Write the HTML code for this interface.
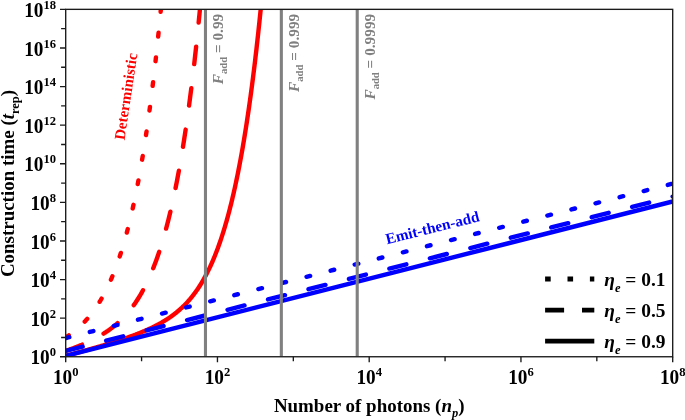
<!DOCTYPE html><html><head><meta charset="utf-8"><style>html,body{margin:0;padding:0;background:#fff}</style></head><body><svg width="685" height="420" viewBox="0 0 685 420" style="display:block;font-family:'Liberation Serif',serif;font-weight:bold">
<rect width="685" height="420" fill="#fff"/>
<defs><clipPath id="c"><rect x="65.7" y="9.35" width="607.0" height="347.4"/></clipPath></defs>
<g clip-path="url(#c)" fill="none" stroke-width="4.4" stroke-linecap="round">
<path d="M65.70,337.45 L66.19,337.13 L66.67,336.81 L67.16,336.48 L67.65,336.15 L68.13,335.82 L68.62,335.49 L69.11,335.14 L69.59,334.80 L70.08,334.45 L70.57,334.10 L71.05,333.74 L71.54,333.38 L72.03,333.01 L72.51,332.64 L73.00,332.27 L73.49,331.89 L73.97,331.51 L74.46,331.12 L74.94,330.72 L75.43,330.33 L75.92,329.92 L76.40,329.51 L76.89,329.10 L77.38,328.68 L77.86,328.25 L78.35,327.82 L78.84,327.39 L79.32,326.95 L79.81,326.50 L80.30,326.05 L80.78,325.59 L81.27,325.12 L81.76,324.65 L82.24,324.17 L82.73,323.69 L83.22,323.19 L83.70,322.70 L84.19,322.19 L84.68,321.68 L85.16,321.16 L85.65,320.63 L86.14,320.10 L86.62,319.56 L87.11,319.01 L87.60,318.45 L88.08,317.89 L88.57,317.32 L89.06,316.74 L89.54,316.15 L90.03,315.55 L90.52,314.95 L91.00,314.33 L91.49,313.71 L91.97,313.08 L92.46,312.44 L92.95,311.79 L93.43,311.13 L93.92,310.46 L94.41,309.78 L94.89,309.09 L95.38,308.39 L95.87,307.68 L96.35,306.96 L96.84,306.23 L97.33,305.49 L97.81,304.74 L98.30,303.98 L98.79,303.20 L99.27,302.42 L99.76,301.62 L100.25,300.81 L100.73,299.99 L101.22,299.16 L101.71,298.32 L102.19,297.46 L102.68,296.59 L103.17,295.71 L103.65,294.81 L104.14,293.90 L104.63,292.98 L105.11,292.05 L105.60,291.10 L106.09,290.13 L106.57,289.15 L107.06,288.16 L107.55,287.15 L108.03,286.13 L108.52,285.09 L109.01,284.04 L109.49,282.97 L109.98,281.89 L110.46,280.79 L110.95,279.67 L111.44,278.54 L111.92,277.38 L112.41,276.22 L112.90,275.03 L113.38,273.83 L113.87,272.61 L114.36,271.37 L114.84,270.11 L115.33,268.84 L115.82,267.54 L116.30,266.23 L116.79,264.90 L117.28,263.54 L117.76,262.17 L118.25,260.78 L118.74,259.36 L119.22,257.93 L119.71,256.47 L120.20,254.99 L120.68,253.49 L121.17,251.97 L121.66,250.42 L122.14,248.85 L122.63,247.26 L123.12,245.64 L123.60,244.00 L124.09,242.34 L124.58,240.65 L125.06,238.94 L125.55,237.20 L126.04,235.43 L126.52,233.64 L127.01,231.82 L127.49,229.98 L127.98,228.11 L128.47,226.21 L128.95,224.28 L129.44,222.32 L129.93,220.33 L130.41,218.32 L130.90,216.27 L131.39,214.19 L131.87,212.09 L132.36,209.95 L132.85,207.78 L133.33,205.57 L133.82,203.34 L134.31,201.07 L134.79,198.77 L135.28,196.43 L135.77,194.06 L136.25,191.65 L136.74,189.21 L137.23,186.73 L137.71,184.21 L138.20,181.66 L138.69,179.07 L139.17,176.44 L139.66,173.77 L140.15,171.06 L140.63,168.31 L141.12,165.52 L141.61,162.69 L142.09,159.82 L142.58,156.90 L143.07,153.94 L143.55,150.94 L144.04,147.89 L144.52,144.79 L145.01,141.65 L145.50,138.47 L145.98,135.23 L146.47,131.95 L146.96,128.62 L147.44,125.24 L147.93,121.81 L148.42,118.33 L148.90,114.79 L149.39,111.21 L149.88,107.57 L150.36,103.87 L150.85,100.13 L151.34,96.32 L151.82,92.46 L152.31,88.54 L152.80,84.56 L153.28,80.53 L153.77,76.43 L154.26,72.28 L154.74,68.06 L155.23,63.78 L155.72,59.43 L156.20,55.02 L156.69,50.55 L157.18,46.00 L157.66,41.40 L158.15,36.72 L158.64,31.97 L159.12,27.15 L159.61,22.26 L160.10,17.30 L160.58,12.26 L161.07,7.15 L161.55,1.96 L162.04,-3.30 L162.53,-8.64 L163.01,-14.07 L163.50,-19.57 L163.99,-25.15" stroke="#f00" stroke-dasharray="3.7 21.15"/>
<path d="M65.70,350.94 L66.19,350.77 L66.67,350.60 L67.16,350.42 L67.65,350.25 L68.13,350.07 L68.62,349.90 L69.11,349.72 L69.59,349.54 L70.08,349.36 L70.57,349.18 L71.05,349.00 L71.54,348.82 L72.03,348.64 L72.51,348.46 L73.00,348.27 L73.49,348.09 L73.97,347.90 L74.46,347.71 L74.94,347.52 L75.43,347.33 L75.92,347.14 L76.40,346.95 L76.89,346.76 L77.38,346.56 L77.86,346.37 L78.35,346.17 L78.84,345.97 L79.32,345.77 L79.81,345.57 L80.30,345.37 L80.78,345.17 L81.27,344.96 L81.76,344.76 L82.24,344.55 L82.73,344.34 L83.22,344.13 L83.70,343.92 L84.19,343.71 L84.68,343.49 L85.16,343.28 L85.65,343.06 L86.14,342.84 L86.62,342.62 L87.11,342.40 L87.60,342.17 L88.08,341.95 L88.57,341.72 L89.06,341.49 L89.54,341.26 L90.03,341.02 L90.52,340.79 L91.00,340.55 L91.49,340.31 L91.97,340.07 L92.46,339.83 L92.95,339.58 L93.43,339.33 L93.92,339.08 L94.41,338.83 L94.89,338.58 L95.38,338.32 L95.87,338.06 L96.35,337.80 L96.84,337.53 L97.33,337.27 L97.81,337.00 L98.30,336.73 L98.79,336.45 L99.27,336.18 L99.76,335.90 L100.25,335.61 L100.73,335.33 L101.22,335.04 L101.71,334.75 L102.19,334.45 L102.68,334.16 L103.17,333.85 L103.65,333.55 L104.14,333.24 L104.63,332.93 L105.11,332.62 L105.60,332.30 L106.09,331.98 L106.57,331.66 L107.06,331.33 L107.55,331.00 L108.03,330.66 L108.52,330.32 L109.01,329.98 L109.49,329.63 L109.98,329.28 L110.46,328.92 L110.95,328.56 L111.44,328.20 L111.92,327.83 L112.41,327.46 L112.90,327.08 L113.38,326.70 L113.87,326.31 L114.36,325.92 L114.84,325.52 L115.33,325.12 L115.82,324.71 L116.30,324.30 L116.79,323.88 L117.28,323.46 L117.76,323.03 L118.25,322.59 L118.74,322.15 L119.22,321.71 L119.71,321.26 L120.20,320.80 L120.68,320.34 L121.17,319.87 L121.66,319.39 L122.14,318.91 L122.63,318.42 L123.12,317.92 L123.60,317.42 L124.09,316.91 L124.58,316.39 L125.06,315.87 L125.55,315.34 L126.04,314.80 L126.52,314.25 L127.01,313.70 L127.49,313.14 L127.98,312.57 L128.47,311.99 L128.95,311.40 L129.44,310.81 L129.93,310.20 L130.41,309.59 L130.90,308.97 L131.39,308.34 L131.87,307.71 L132.36,307.06 L132.85,306.40 L133.33,305.74 L133.82,305.06 L134.31,304.37 L134.79,303.68 L135.28,302.97 L135.77,302.26 L136.25,301.53 L136.74,300.79 L137.23,300.04 L137.71,299.28 L138.20,298.51 L138.69,297.73 L139.17,296.94 L139.66,296.14 L140.15,295.32 L140.63,294.49 L141.12,293.65 L141.61,292.80 L142.09,291.93 L142.58,291.05 L143.07,290.16 L143.55,289.25 L144.04,288.34 L144.52,287.40 L145.01,286.46 L145.50,285.50 L145.98,284.53 L146.47,283.54 L146.96,282.53 L147.44,281.52 L147.93,280.48 L148.42,279.43 L148.90,278.37 L149.39,277.29 L149.88,276.20 L150.36,275.08 L150.85,273.96 L151.34,272.81 L151.82,271.65 L152.31,270.47 L152.80,269.27 L153.28,268.06 L153.77,266.82 L154.26,265.57 L154.74,264.30 L155.23,263.01 L155.72,261.70 L156.20,260.38 L156.69,259.03 L157.18,257.66 L157.66,256.27 L158.15,254.87 L158.64,253.44 L159.12,251.99 L159.61,250.52 L160.10,249.02 L160.58,247.51 L161.07,245.97 L161.55,244.40 L162.04,242.82 L162.53,241.21 L163.01,239.58 L163.50,237.92 L163.99,236.24 L164.47,234.54 L164.96,232.80 L165.45,231.05 L165.93,229.26 L166.42,227.45 L166.91,225.62 L167.39,223.75 L167.88,221.86 L168.37,219.94 L168.85,217.99 L169.34,216.01 L169.83,214.01 L170.31,211.97 L170.80,209.90 L171.29,207.80 L171.77,205.67 L172.26,203.51 L172.75,201.32 L173.23,199.09 L173.72,196.84 L174.21,194.54 L174.69,192.22 L175.18,189.86 L175.67,187.46 L176.15,185.03 L176.64,182.56 L177.13,180.06 L177.61,177.51 L178.10,174.93 L178.58,172.31 L179.07,169.66 L179.56,166.96 L180.04,164.22 L180.53,161.45 L181.02,158.63 L181.50,155.77 L181.99,152.86 L182.48,149.92 L182.96,146.93 L183.45,143.89 L183.94,140.81 L184.42,137.69 L184.91,134.51 L185.40,131.29 L185.88,128.03 L186.37,124.71 L186.86,121.35 L187.34,117.93 L187.83,114.46 L188.32,110.95 L188.80,107.38 L189.29,103.75 L189.78,100.08 L190.26,96.34 L190.75,92.56 L191.24,88.71 L191.72,84.81 L192.21,80.85 L192.70,76.84 L193.18,72.76 L193.67,68.62 L194.16,64.42 L194.64,60.16 L195.13,55.83 L195.62,51.44 L196.10,46.99 L196.59,42.47 L197.07,37.88 L197.56,33.22 L198.05,28.50 L198.53,23.70 L199.02,18.83 L199.51,13.89 L199.99,8.88 L200.48,3.79 L200.97,-1.38 L201.45,-6.62 L201.94,-11.94 L202.43,-17.33 L202.91,-22.81" stroke="#f00" stroke-dasharray="17.5 24.25"/>
<path d="M65.70,355.87 L66.19,355.74 L66.67,355.61 L67.16,355.48 L67.65,355.34 L68.13,355.21 L68.62,355.08 L69.11,354.95 L69.59,354.82 L70.08,354.69 L70.57,354.56 L71.05,354.43 L71.54,354.29 L72.03,354.16 L72.51,354.03 L73.00,353.90 L73.49,353.77 L73.97,353.63 L74.46,353.50 L74.94,353.37 L75.43,353.24 L75.92,353.10 L76.40,352.97 L76.89,352.84 L77.38,352.70 L77.86,352.57 L78.35,352.44 L78.84,352.30 L79.32,352.17 L79.81,352.04 L80.30,351.90 L80.78,351.77 L81.27,351.63 L81.76,351.50 L82.24,351.36 L82.73,351.23 L83.22,351.09 L83.70,350.96 L84.19,350.82 L84.68,350.69 L85.16,350.55 L85.65,350.42 L86.14,350.28 L86.62,350.14 L87.11,350.01 L87.60,349.87 L88.08,349.73 L88.57,349.60 L89.06,349.46 L89.54,349.32 L90.03,349.18 L90.52,349.05 L91.00,348.91 L91.49,348.77 L91.97,348.63 L92.46,348.49 L92.95,348.35 L93.43,348.21 L93.92,348.07 L94.41,347.93 L94.89,347.79 L95.38,347.65 L95.87,347.51 L96.35,347.37 L96.84,347.23 L97.33,347.09 L97.81,346.95 L98.30,346.80 L98.79,346.66 L99.27,346.52 L99.76,346.38 L100.25,346.23 L100.73,346.09 L101.22,345.95 L101.71,345.80 L102.19,345.66 L102.68,345.51 L103.17,345.37 L103.65,345.22 L104.14,345.08 L104.63,344.93 L105.11,344.78 L105.60,344.64 L106.09,344.49 L106.57,344.34 L107.06,344.20 L107.55,344.05 L108.03,343.90 L108.52,343.75 L109.01,343.60 L109.49,343.45 L109.98,343.30 L110.46,343.15 L110.95,343.00 L111.44,342.85 L111.92,342.69 L112.41,342.54 L112.90,342.39 L113.38,342.24 L113.87,342.08 L114.36,341.93 L114.84,341.77 L115.33,341.62 L115.82,341.46 L116.30,341.31 L116.79,341.15 L117.28,340.99 L117.76,340.83 L118.25,340.68 L118.74,340.52 L119.22,340.36 L119.71,340.20 L120.20,340.04 L120.68,339.88 L121.17,339.71 L121.66,339.55 L122.14,339.39 L122.63,339.22 L123.12,339.06 L123.60,338.89 L124.09,338.73 L124.58,338.56 L125.06,338.40 L125.55,338.23 L126.04,338.06 L126.52,337.89 L127.01,337.72 L127.49,337.55 L127.98,337.38 L128.47,337.21 L128.95,337.03 L129.44,336.86 L129.93,336.68 L130.41,336.51 L130.90,336.33 L131.39,336.15 L131.87,335.98 L132.36,335.80 L132.85,335.62 L133.33,335.44 L133.82,335.25 L134.31,335.07 L134.79,334.89 L135.28,334.70 L135.77,334.52 L136.25,334.33 L136.74,334.14 L137.23,333.95 L137.71,333.76 L138.20,333.57 L138.69,333.38 L139.17,333.19 L139.66,332.99 L140.15,332.80 L140.63,332.60 L141.12,332.40 L141.61,332.20 L142.09,332.00 L142.58,331.80 L143.07,331.59 L143.55,331.39 L144.04,331.18 L144.52,330.97 L145.01,330.76 L145.50,330.55 L145.98,330.34 L146.47,330.13 L146.96,329.91 L147.44,329.70 L147.93,329.48 L148.42,329.26 L148.90,329.04 L149.39,328.81 L149.88,328.59 L150.36,328.36 L150.85,328.13 L151.34,327.90 L151.82,327.67 L152.31,327.43 L152.80,327.20 L153.28,326.96 L153.77,326.72 L154.26,326.48 L154.74,326.23 L155.23,325.99 L155.72,325.74 L156.20,325.49 L156.69,325.23 L157.18,324.98 L157.66,324.72 L158.15,324.46 L158.64,324.20 L159.12,323.93 L159.61,323.66 L160.10,323.39 L160.58,323.12 L161.07,322.85 L161.55,322.57 L162.04,322.29 L162.53,322.00 L163.01,321.72 L163.50,321.43 L163.99,321.13 L164.47,320.84 L164.96,320.54 L165.45,320.24 L165.93,319.93 L166.42,319.62 L166.91,319.31 L167.39,319.00 L167.88,318.68 L168.37,318.36 L168.85,318.03 L169.34,317.70 L169.83,317.37 L170.31,317.03 L170.80,316.69 L171.29,316.34 L171.77,315.99 L172.26,315.64 L172.75,315.28 L173.23,314.92 L173.72,314.55 L174.21,314.18 L174.69,313.81 L175.18,313.43 L175.67,313.04 L176.15,312.66 L176.64,312.26 L177.13,311.86 L177.61,311.46 L178.10,311.05 L178.58,310.63 L179.07,310.21 L179.56,309.79 L180.04,309.36 L180.53,308.92 L181.02,308.48 L181.50,308.03 L181.99,307.58 L182.48,307.12 L182.96,306.65 L183.45,306.18 L183.94,305.70 L184.42,305.21 L184.91,304.72 L185.40,304.22 L185.88,303.72 L186.37,303.20 L186.86,302.68 L187.34,302.16 L187.83,301.62 L188.32,301.08 L188.80,300.53 L189.29,299.97 L189.78,299.41 L190.26,298.83 L190.75,298.25 L191.24,297.66 L191.72,297.07 L192.21,296.46 L192.70,295.84 L193.18,295.22 L193.67,294.59 L194.16,293.94 L194.64,293.29 L195.13,292.63 L195.62,291.96 L196.10,291.28 L196.59,290.59 L197.07,289.89 L197.56,289.18 L198.05,288.46 L198.53,287.73 L199.02,286.99 L199.51,286.24 L199.99,285.47 L200.48,284.70 L200.97,283.91 L201.45,283.11 L201.94,282.30 L202.43,281.48 L202.91,280.65 L203.40,279.80 L203.89,278.94 L204.37,278.07 L204.86,277.19 L205.35,276.29 L205.83,275.38 L206.32,274.46 L206.81,273.52 L207.29,272.57 L207.78,271.60 L208.27,270.62 L208.75,269.63 L209.24,268.62 L209.73,267.59 L210.21,266.55 L210.70,265.50 L211.19,264.43 L211.67,263.34 L212.16,262.24 L212.65,261.12 L213.13,259.99 L213.62,258.83 L214.10,257.66 L214.59,256.48 L215.08,255.27 L215.56,254.05 L216.05,252.81 L216.54,251.55 L217.02,250.27 L217.51,248.98 L218.00,247.66 L218.48,246.32 L218.97,244.97 L219.46,243.59 L219.94,242.20 L220.43,240.78 L220.92,239.34 L221.40,237.88 L221.89,236.40 L222.38,234.90 L222.86,233.37 L223.35,231.82 L223.84,230.25 L224.32,228.66 L224.81,227.04 L225.30,225.40 L225.78,223.73 L226.27,222.04 L226.76,220.32 L227.24,218.58 L227.73,216.81 L228.22,215.02 L228.70,213.19 L229.19,211.35 L229.68,209.47 L230.16,207.57 L230.65,205.63 L231.13,203.67 L231.62,201.68 L232.11,199.66 L232.59,197.61 L233.08,195.53 L233.57,193.42 L234.05,191.28 L234.54,189.11 L235.03,186.90 L235.51,184.66 L236.00,182.39 L236.49,180.08 L236.97,177.74 L237.46,175.36 L237.95,172.95 L238.43,170.51 L238.92,168.02 L239.41,165.50 L239.89,162.94 L240.38,160.35 L240.87,157.71 L241.35,155.04 L241.84,152.33 L242.33,149.57 L242.81,146.78 L243.30,143.94 L243.79,141.06 L244.27,138.14 L244.76,135.18 L245.25,132.17 L245.73,129.11 L246.22,126.01 L246.71,122.87 L247.19,119.68 L247.68,116.44 L248.16,113.15 L248.65,109.81 L249.14,106.43 L249.62,102.99 L250.11,99.50 L250.60,95.96 L251.08,92.37 L251.57,88.73 L252.06,85.03 L252.54,81.27 L253.03,77.46 L253.52,73.59 L254.00,69.67 L254.49,65.68 L254.98,61.64 L255.46,57.54 L255.95,53.37 L256.44,49.15 L256.92,44.86 L257.41,40.51 L257.90,36.09 L258.38,31.61 L258.87,27.06 L259.36,22.44 L259.84,17.75 L260.33,13.00 L260.82,8.17 L261.30,3.27 L261.79,-1.70 L262.28,-6.74 L262.76,-11.86 L263.25,-17.06 L263.74,-22.33" stroke="#f00"/>
<path d="M65.70,338.05 L672.70,183.65" stroke="#00f" stroke-dasharray="3.7 21.15"/>
<path d="M65.70,350.94 L672.70,196.54" stroke="#00f" stroke-dasharray="17.5 24.25"/>
<path d="M65.70,355.87 L672.70,201.47" stroke="#00f"/>
</g>
<line x1="205.47" x2="205.47" y1="9.95" y2="356.15" stroke="#808080" stroke-width="3.1"/>
<line x1="281.34" x2="281.34" y1="9.95" y2="356.15" stroke="#808080" stroke-width="3.1"/>
<line x1="357.22" x2="357.22" y1="9.95" y2="356.15" stroke="#808080" stroke-width="3.1"/>
<rect x="65.7" y="9.35" width="607.0" height="347.4" fill="none" stroke="#1a1a1a" stroke-width="1.35"/>
<path d="M65.7,356.75h-5.7 M65.7,337.45h-4.6 M65.7,318.15h-5.7 M65.7,298.85h-4.6 M65.7,279.55h-5.7 M65.7,260.25h-4.6 M65.7,240.95h-5.7 M65.7,221.65h-4.6 M65.7,202.35h-5.7 M65.7,183.05h-4.6 M65.7,163.75h-5.7 M65.7,144.45h-4.6 M65.7,125.15h-5.7 M65.7,105.85h-4.6 M65.7,86.55h-5.7 M65.7,67.25h-4.6 M65.7,47.95h-5.7 M65.7,28.65h-4.6 M65.7,9.35h-5.7 M65.70,356.75v5.5 M141.57,356.75v4.4 M217.45,356.75v5.5 M293.32,356.75v4.4 M369.20,356.75v5.5 M445.07,356.75v4.4 M520.95,356.75v5.5 M596.83,356.75v4.4 M672.70,356.75v5.5" stroke="#1a1a1a" stroke-width="1.35" fill="none"/>
<text transform="translate(56.0,364.45) scale(1,1.04)" text-anchor="end" font-size="19.3" fill="#000">10<tspan font-size="12.6" dy="-7.7">0</tspan></text>
<text transform="translate(56.0,325.85) scale(1,1.04)" text-anchor="end" font-size="19.3" fill="#000">10<tspan font-size="12.6" dy="-7.7">2</tspan></text>
<text transform="translate(56.0,287.25) scale(1,1.04)" text-anchor="end" font-size="19.3" fill="#000">10<tspan font-size="12.6" dy="-7.7">4</tspan></text>
<text transform="translate(56.0,248.65) scale(1,1.04)" text-anchor="end" font-size="19.3" fill="#000">10<tspan font-size="12.6" dy="-7.7">6</tspan></text>
<text transform="translate(56.0,210.05) scale(1,1.04)" text-anchor="end" font-size="19.3" fill="#000">10<tspan font-size="12.6" dy="-7.7">8</tspan></text>
<text transform="translate(56.0,171.45) scale(1,1.04)" text-anchor="end" font-size="19.3" fill="#000">10<tspan font-size="12.6" dy="-7.7">10</tspan></text>
<text transform="translate(56.0,132.85) scale(1,1.04)" text-anchor="end" font-size="19.3" fill="#000">10<tspan font-size="12.6" dy="-7.7">12</tspan></text>
<text transform="translate(56.0,94.25) scale(1,1.04)" text-anchor="end" font-size="19.3" fill="#000">10<tspan font-size="12.6" dy="-7.7">14</tspan></text>
<text transform="translate(56.0,55.65) scale(1,1.04)" text-anchor="end" font-size="19.3" fill="#000">10<tspan font-size="12.6" dy="-7.7">16</tspan></text>
<text transform="translate(56.0,17.05) scale(1,1.04)" text-anchor="end" font-size="19.3" fill="#000">10<tspan font-size="12.6" dy="-7.7">18</tspan></text>
<text transform="translate(65.70,384) scale(1,1.04)" text-anchor="middle" font-size="19.3" fill="#000">10<tspan font-size="12.6" dy="-7.7">0</tspan></text>
<text transform="translate(217.45,384) scale(1,1.04)" text-anchor="middle" font-size="19.3" fill="#000">10<tspan font-size="12.6" dy="-7.7">2</tspan></text>
<text transform="translate(369.20,384) scale(1,1.04)" text-anchor="middle" font-size="19.3" fill="#000">10<tspan font-size="12.6" dy="-7.7">4</tspan></text>
<text transform="translate(520.95,384) scale(1,1.04)" text-anchor="middle" font-size="19.3" fill="#000">10<tspan font-size="12.6" dy="-7.7">6</tspan></text>
<text transform="translate(672.70,384) scale(1,1.04)" text-anchor="middle" font-size="19.3" fill="#000">10<tspan font-size="12.6" dy="-7.7">8</tspan></text>
<text id="xl" x="369.2" y="412" text-anchor="middle" font-size="18.95" fill="#000">Number of photons (<tspan font-style="italic">n</tspan><tspan font-style="italic" font-size="12.5" dy="5.3">p</tspan><tspan dy="-5.3">)</tspan></text>
<text id="yl" transform="translate(13.7,183.5) rotate(-90)" text-anchor="middle" font-size="18.95" fill="#000">Construction time (<tspan font-style="italic">t</tspan><tspan font-size="12.5" dy="5">rep</tspan><tspan dy="-5">)</tspan></text>
<text id="det" transform="translate(124.5,140.6) rotate(-81.5)" font-size="15.2" fill="#f00">Deterministic</text>
<text id="eta" transform="translate(387,244.3) rotate(-14)" font-size="15.3" fill="#00f">Emit-then-add</text>
<text class="fa" transform="translate(222.97,13.8) rotate(-90)" text-anchor="end" font-size="15.3" fill="#808080"><tspan font-style="italic">F</tspan><tspan font-size="10.6" dy="4.1">add</tspan><tspan dy="-4.1"> = 0.99</tspan></text>
<text class="fa" transform="translate(298.84,13.8) rotate(-90)" text-anchor="end" font-size="15.3" fill="#808080"><tspan font-style="italic">F</tspan><tspan font-size="10.6" dy="4.1">add</tspan><tspan dy="-4.1"> = 0.999</tspan></text>
<text class="fa" transform="translate(374.72,13.8) rotate(-90)" text-anchor="end" font-size="15.3" fill="#808080"><tspan font-style="italic">F</tspan><tspan font-size="10.6" dy="4.1">add</tspan><tspan dy="-4.1"> = 0.9999</tspan></text>
<path d="M545.1,279H594.3" stroke="#000" stroke-width="4.8" fill="none" stroke-dasharray="5.6 16.8"/>
<text class="lg" x="604.3" y="285.8" font-size="19.4" fill="#000"><tspan font-style="italic">η</tspan><tspan font-style="italic" font-size="12.5" dy="6.3">e</tspan><tspan dy="-6.3"> = 0.1</tspan></text>
<path d="M545.1,310.1H594.3" stroke="#000" stroke-width="4.8" fill="none" stroke-dasharray="19 17.9"/>
<text class="lg" x="604.3" y="316.9" font-size="19.4" fill="#000"><tspan font-style="italic">η</tspan><tspan font-style="italic" font-size="12.5" dy="6.3">e</tspan><tspan dy="-6.3"> = 0.5</tspan></text>
<path d="M545.1,341.2H594.3" stroke="#000" stroke-width="4.8" fill="none"/>
<text class="lg" x="604.3" y="348.0" font-size="19.4" fill="#000"><tspan font-style="italic">η</tspan><tspan font-style="italic" font-size="12.5" dy="6.3">e</tspan><tspan dy="-6.3"> = 0.9</tspan></text>
</svg></body></html>
